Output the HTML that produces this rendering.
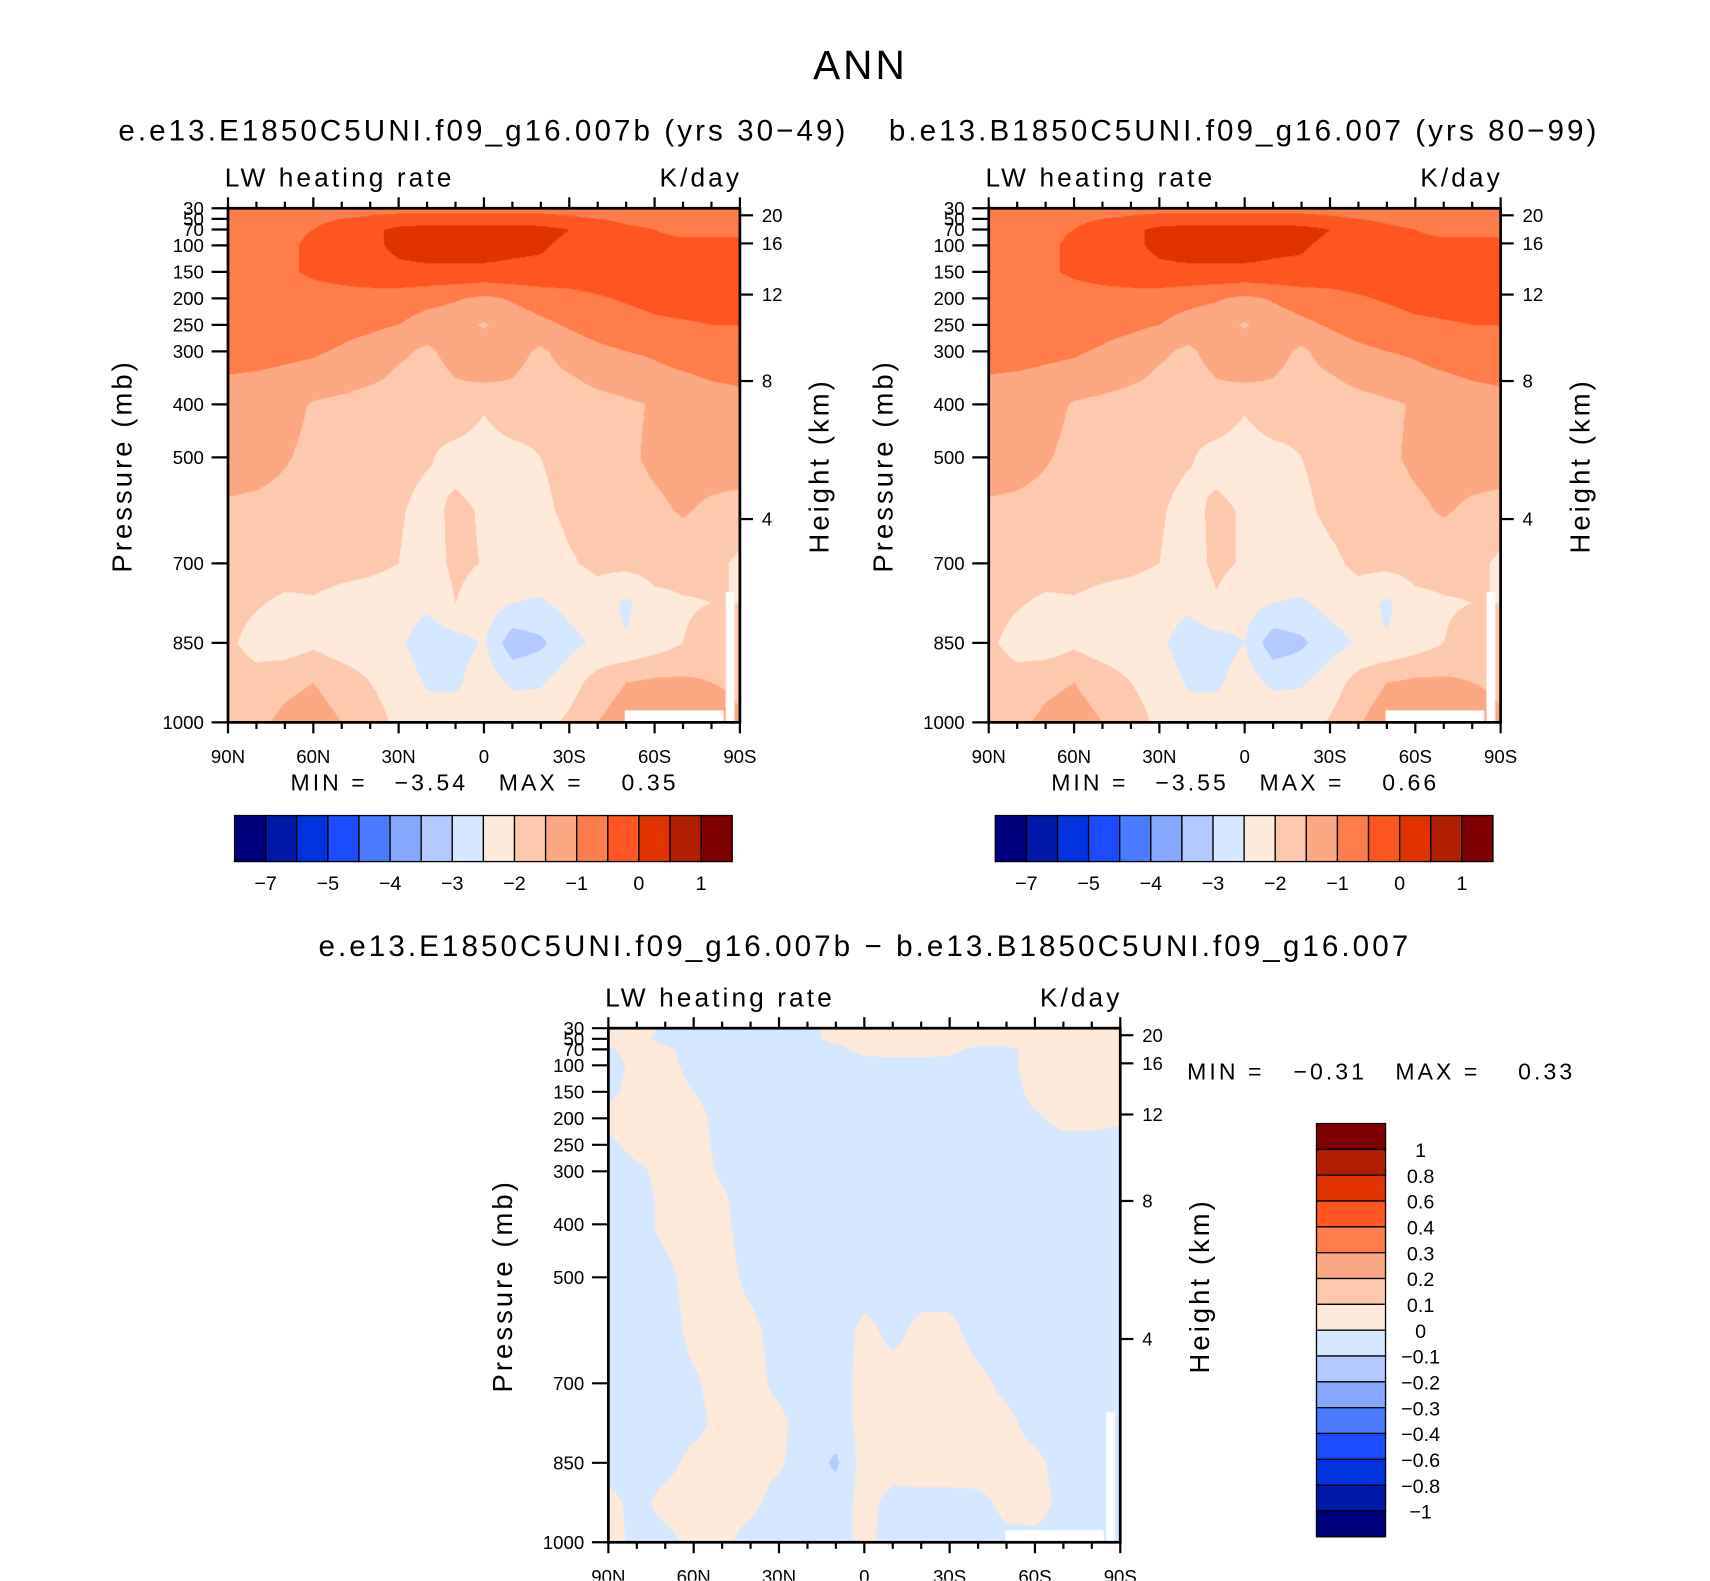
<!DOCTYPE html>
<html><head><meta charset="utf-8">
<style>
html,body{margin:0;padding:0;background:#fff;}
#page{position:absolute;left:0;top:0;width:1560px;height:1442px;transform:scale(1.09615);transform-origin:0 0;overflow:hidden;}
canvas{position:absolute;}
svg{position:absolute;left:0;top:0;}
text{font-family:"Liberation Sans",sans-serif;fill:#000;}
.ls{letter-spacing:2.8px;}
</style></head>
<body>
<div id="page">
<canvas id="c1"></canvas>
<canvas id="c2"></canvas>
<canvas id="c3"></canvas>
<svg id="ov" width="1560" height="1442" viewBox="0 0 1560 1442"></svg>
</div>
<script>
const lats=[90,80,70,60,50,40,30,20,10,0,-10,-20,-30,-40,-50,-60,-70,-80,-90];
const plevs=[30,50,70,100,150,200,250,300,350,400,500,600,700,775,850,925,1000];
const field1=[
[-1.4,-1.35,-1.3,-1.3,-1.3,-1.25,-1.2,-1.2,-1.2,-1.2,-1.2,-1.2,-1.25,-1.3,-1.3,-1.3,-1.35,-1.4,-1.4],
[-1.2,-1.2,-1.2,-1.1,-1.0,-0.9,-0.8,-0.8,-0.8,-0.8,-0.8,-0.8,-0.9,-1.0,-1.1,-1.2,-1.2,-1.2,-1.2],
[-1.2,-1.2,-1.1,-1.0,-0.8,-0.6,-0.4,-0.3,-0.3,-0.3,-0.3,-0.35,-0.5,-0.7,-0.9,-1.0,-1.1,-1.1,-1.1],
[-1.2,-1.2,-1.1,-0.9,-0.7,-0.6,-0.4,-0.3,-0.3,-0.3,-0.4,-0.45,-0.6,-0.7,-0.85,-0.9,-0.9,-0.9,-0.9],
[-1.2,-1.2,-1.1,-0.9,-0.8,-0.7,-0.6,-0.6,-0.6,-0.6,-0.6,-0.6,-0.65,-0.7,-0.8,-0.8,-0.8,-0.8,-0.8],
[-1.3,-1.3,-1.3,-1.25,-1.2,-1.2,-1.25,-1.35,-1.45,-1.6,-1.45,-1.3,-1.2,-1.05,-0.95,-0.85,-0.8,-0.8,-0.8],
[-1.3,-1.3,-1.3,-1.3,-1.35,-1.4,-1.5,-1.7,-1.8,-2.05,-1.75,-1.6,-1.45,-1.3,-1.2,-1.1,-1.05,-1.0,-1.0],
[-1.35,-1.35,-1.4,-1.45,-1.55,-1.7,-1.9,-2.1,-1.8,-1.7,-1.8,-2.1,-1.75,-1.6,-1.5,-1.45,-1.35,-1.3,-1.25],
[-1.52,-1.55,-1.6,-1.65,-1.75,-1.9,-2.1,-2.2,-2.0,-1.9,-2.0,-2.2,-2.05,-1.85,-1.7,-1.6,-1.55,-1.48,-1.45],
[-1.6,-1.65,-1.8,-2.05,-2.15,-2.25,-2.3,-2.35,-2.2,-2.45,-2.2,-2.3,-2.3,-2.2,-2.1,-1.95,-1.7,-1.65,-1.6],
[-1.7,-1.75,-1.95,-2.15,-2.25,-2.3,-2.35,-2.45,-2.65,-2.7,-2.65,-2.5,-2.35,-2.25,-2.1,-1.9,-1.8,-1.75,-1.7],
[-2.1,-2.15,-2.2,-2.25,-2.3,-2.35,-2.45,-2.65,-2.4,-2.55,-2.75,-2.6,-2.4,-2.3,-2.2,-2.1,-1.95,-2.1,-2.2],
[-2.2,-2.2,-2.25,-2.3,-2.35,-2.4,-2.5,-2.7,-2.4,-2.52,-2.75,-2.75,-2.55,-2.4,-2.35,-2.3,-2.3,-2.35,-2.6],
[-2.3,-2.45,-2.6,-2.55,-2.65,-2.7,-2.75,-2.9,-2.5,-2.75,-3.0,-3.05,-2.85,-2.7,-3.1,-2.65,-2.55,-2.5,-2.5],
[-2.4,-2.7,-2.8,-2.6,-2.8,-2.85,-2.9,-3.3,-3.2,-2.95,-3.8,-3.6,-3.15,-2.9,-2.95,-2.75,-2.5,-2.3,-2.2],
[-2.2,-2.3,-2.1,-2.0,-2.2,-2.5,-2.7,-3.05,-3.1,-2.7,-3.1,-3.05,-2.7,-2.3,-2.0,-1.9,-1.9,-2.0,-2.2],
[-2.0,-2.1,-1.9,-1.8,-2.0,-2.3,-2.6,-2.8,-2.7,-2.5,-2.6,-2.7,-2.4,-2.0,-1.7,-1.4,-1.7,-1.3,-1.9]];
const field2=[
[-1.4,-1.35,-1.3,-1.3,-1.3,-1.25,-1.2,-1.2,-1.2,-1.2,-1.2,-1.2,-1.25,-1.3,-1.3,-1.3,-1.35,-1.4,-1.4],
[-1.2,-1.2,-1.2,-1.1,-1.0,-0.9,-0.8,-0.8,-0.8,-0.8,-0.8,-0.8,-0.9,-1.0,-1.1,-1.2,-1.2,-1.2,-1.2],
[-1.2,-1.2,-1.1,-1.0,-0.8,-0.6,-0.4,-0.3,-0.3,-0.3,-0.3,-0.35,-0.5,-0.7,-0.9,-1.0,-1.1,-1.1,-1.1],
[-1.2,-1.2,-1.1,-0.9,-0.7,-0.6,-0.4,-0.3,-0.3,-0.3,-0.4,-0.45,-0.6,-0.7,-0.85,-0.9,-0.9,-0.9,-0.9],
[-1.2,-1.2,-1.1,-0.9,-0.8,-0.7,-0.6,-0.6,-0.6,-0.6,-0.6,-0.6,-0.65,-0.7,-0.8,-0.8,-0.8,-0.8,-0.8],
[-1.3,-1.3,-1.3,-1.25,-1.2,-1.2,-1.25,-1.35,-1.45,-1.6,-1.45,-1.3,-1.2,-1.05,-0.95,-0.85,-0.8,-0.8,-0.8],
[-1.3,-1.3,-1.3,-1.3,-1.35,-1.4,-1.5,-1.7,-1.8,-2.05,-1.75,-1.6,-1.45,-1.3,-1.2,-1.1,-1.05,-1.0,-1.0],
[-1.35,-1.35,-1.4,-1.45,-1.55,-1.7,-1.9,-2.1,-1.8,-1.7,-1.8,-2.1,-1.75,-1.6,-1.5,-1.45,-1.35,-1.3,-1.25],
[-1.52,-1.55,-1.6,-1.65,-1.75,-1.9,-2.1,-2.2,-2.0,-1.9,-2.0,-2.2,-2.05,-1.85,-1.7,-1.6,-1.55,-1.48,-1.45],
[-1.6,-1.65,-1.8,-2.05,-2.15,-2.25,-2.3,-2.35,-2.2,-2.45,-2.2,-2.3,-2.3,-2.2,-2.1,-1.95,-1.7,-1.65,-1.6],
[-1.7,-1.75,-1.95,-2.15,-2.25,-2.3,-2.35,-2.45,-2.65,-2.7,-2.65,-2.5,-2.35,-2.25,-2.1,-1.9,-1.8,-1.75,-1.7],
[-2.1,-2.15,-2.2,-2.25,-2.3,-2.35,-2.45,-2.65,-2.4,-2.55,-2.75,-2.6,-2.4,-2.3,-2.2,-2.1,-1.95,-2.1,-2.2],
[-2.2,-2.2,-2.25,-2.3,-2.35,-2.4,-2.5,-2.7,-2.4,-2.55,-2.75,-2.75,-2.6,-2.4,-2.35,-2.3,-2.3,-2.35,-2.6],
[-2.3,-2.45,-2.6,-2.55,-2.65,-2.7,-2.75,-2.9,-2.55,-2.8,-3.0,-3.05,-2.85,-2.7,-3.1,-2.65,-2.55,-2.5,-2.5],
[-2.4,-2.7,-2.8,-2.6,-2.8,-2.85,-2.9,-3.25,-3.2,-3.0,-3.8,-3.6,-3.2,-2.95,-2.95,-2.75,-2.5,-2.3,-2.2],
[-2.2,-2.3,-2.1,-2.0,-2.2,-2.5,-2.7,-3.05,-3.1,-2.75,-3.1,-3.05,-2.75,-2.3,-2.0,-1.9,-1.9,-2.0,-2.2],
[-2.0,-2.1,-1.9,-1.8,-2.0,-2.3,-2.6,-2.8,-2.7,-2.55,-2.6,-2.7,-2.45,-2.05,-1.7,-1.4,-1.7,-1.3,-1.9]];
const fieldDiff=[
[.05,.05,-.02,-.04,-.05,-.05,-.04,-.02,.03,.04,.03,.04,.05,.05,.05,.05,.05,.05,.05],
[.04,.03,-.03,-.05,-.06,-.05,-.04,-.02,.02,.04,.04,.05,.05,.05,.05,.05,.05,.05,.05],
[-.01,.03,.02,-.04,-.05,-.05,-.04,-.03,-.02,.02,.03,.03,.02,-.02,-.02,.03,.04,.04,.04],
[-.03,.02,.03,-.03,-.05,-.05,-.04,-.04,-.03,-.03,-.03,-.03,-.03,-.03,-.02,.03,.04,.04,.04],
[-.02,.03,.04,.0,-.04,-.05,-.05,-.04,-.04,-.04,-.04,-.04,-.04,-.04,-.03,.02,.03,.03,.03],
[.03,.04,.04,.03,-.03,-.05,-.05,-.04,-.04,-.04,-.04,-.04,-.04,-.04,-.03,-.01,.02,.02,.01],
[-.02,.03,.04,.03,-.02,-.05,-.05,-.04,-.04,-.04,-.04,-.04,-.04,-.04,-.04,-.03,-.02,-.02,-.03],
[-.04,-.02,.03,.03,-.01,-.04,-.05,-.04,-.04,-.04,-.04,-.04,-.04,-.04,-.04,-.04,-.04,-.04,-.04],
[-.04,-.03,.02,.03,.01,-.04,-.05,-.05,-.04,-.04,-.04,-.04,-.04,-.04,-.04,-.04,-.04,-.04,-.04],
[-.04,-.03,.02,.03,.02,-.04,-.05,-.05,-.04,-.04,-.04,-.04,-.04,-.04,-.04,-.04,-.04,-.04,-.04],
[-.04,-.04,-.02,.03,.03,-.02,-.05,-.05,-.04,-.04,-.04,-.04,-.04,-.04,-.04,-.04,-.04,-.04,-.04],
[-.04,-.04,-.03,.02,.03,.02,-.03,-.05,-.04,.02,-.02,.02,.02,-.03,-.04,-.04,-.04,-.04,-.04],
[-.04,-.04,-.03,-.01,.03,.03,-.02,-.05,-.04,.03,.03,.03,.04,.02,-.02,-.04,-.04,-.04,-.04],
[-.04,-.04,-.03,-.02,.02,.03,.02,-.04,-.04,.03,.04,.04,.04,.03,.02,-.03,-.04,-.04,-.04],
[-.03,-.03,-.02,.02,.03,.03,.01,-.04,-.12,.05,.04,.05,.05,.04,.03,.02,-.03,-.04,-.04],
[.02,-.02,.02,.03,.03,.02,-.03,-.05,-.04,.03,-.03,-.03,-.03,-.02,.02,.03,-.02,-.04,-.04],
[.03,-.02,-.02,.02,.02,-.03,-.04,-.04,-.03,.02,-.03,-.03,-.03,-.03,-.02,-.02,-.03,-.04,-.04]];
const bounds1=[-7.5,-6.5,-5.5,-5,-4.5,-4,-3.5,-3,-2.5,-2,-1.5,-1,-0.5,0,0.5];
const boundsDiff=[-1,-0.8,-0.6,-0.4,-0.3,-0.2,-0.1,0,0.1,0.2,0.3,0.4,0.6,0.8,1];
const cbLabels1=["−7","−5","−4","−3","−2","−1","0","1"];
const cbLabelsDiff=["1","0.8","0.6","0.4","0.3","0.2","0.1","0","−0.1","−0.2","−0.3","−0.4","−0.6","−0.8","−1"];
const pTicks=[30,50,70,100,150,200,250,300,400,500,700,850,1000];
const zTicks=[4,8,12,16,20];
const latTicks=[90,60,30,0,-30,-60,-90];
const latTickLabels=["90N","60N","30N","0","30S","60S","90S"];
const colors=["#00007f","#0019a8","#0032e0","#1a4dff","#4a7bff","#86a6ff","#b3c9ff","#d6e8ff","#feeadb","#fdc9ae","#fca883","#fe7d4a","#ff5520","#e03300","#b11f00","#7f0000"];

const S=1.09615, W=467, H=469;
const svg=document.getElementById('ov');
const NS="http://www.w3.org/2000/svg";
function mk(tag,attrs,txt){const e=document.createElementNS(NS,tag);for(const k in attrs)e.setAttribute(k,attrs[k]);if(txt!==undefined)e.textContent=txt;svg.appendChild(e);return e;}
function yP(top,p){return top+(p-30)/970*H;}
function xL(left,lat){return left+(90-lat)/180*W;}
function zToP(z){return 1013.25*Math.pow(1-2.25577e-5*z*1000,5.25588);}
function val(grid,lat,p){
  let fi=(90-lat)/10;let i=Math.min(Math.floor(fi),17);let tx=fi-i;
  let j=0;while(j<plevs.length-2&&p>plevs[j+1])j++;
  let ty=(p-plevs[j])/(plevs[j+1]-plevs[j]);ty=Math.max(0,Math.min(1,ty));
  const a=grid[j][i],b=grid[j][i+1],c=grid[j+1][i],d=grid[j+1][i+1];
  return (a*(1-tx)+b*tx)*(1-ty)+(c*(1-tx)+d*tx)*ty;
}
function rgb(h){return [parseInt(h.substr(1,2),16),parseInt(h.substr(3,2),16),parseInt(h.substr(5,2),16)];}
const rgbs=colors.map(rgb);
function drawField(id,left,top,grid,bounds){
  const c=document.getElementById(id);
  const cw=Math.round(W*S),ch=Math.round(H*S);
  c.width=cw;c.height=ch;c.style.left=left+'px';c.style.top=top+'px';c.style.width=W+'px';c.style.height=H+'px';
  const ctx=c.getContext('2d');const img=ctx.createImageData(cw,ch);
  for(let y=0;y<ch;y++){const p=30+(y+0.5)/ch*970;
    for(let x=0;x<cw;x++){const lat=90-(x+0.5)/cw*180;const v=val(grid,lat,p);
      let k=0;while(k<bounds.length&&v>=bounds[k])k++;
      const col=rgbs[k];const o=(y*cw+x)*4;img.data[o]=col[0];img.data[o+1]=col[1];img.data[o+2]=col[2];img.data[o+3]=255;}}
  ctx.putImageData(img,0,0);
  ctx.fillStyle='#fff';
  ctx.fillRect((362/W)*cw,(458/H)*ch,(90/W)*cw,(11/H)*ch);
  ctx.fillRect((454/W)*cw,(350/H)*ch,(8/W)*cw,(119/H)*ch);
}
function axes(left,top,pre){
  mk('rect',{x:left,y:top,width:W,height:H,fill:'none',stroke:'#000','stroke-width':2.5,});
  for(let lat=90;lat>=-90;lat-=10){const x=xL(left,lat);const major=lat%30===0;const L=major?10:6;
    mk('line',{x1:x,y1:top+H,x2:x,y2:top+H+L,stroke:'#000','stroke-width':2});
    mk('line',{x1:x,y1:top,x2:x,y2:top-L,stroke:'#000','stroke-width':2});}
  latTicks.forEach((lat,i)=>{const t=mk('text',{x:xL(left,lat),y:top+H+37,'font-size':17,'text-anchor':'middle'},latTickLabels[i]);
    
    });
  pTicks.forEach(p=>{const y=yP(top,p);mk('line',{x1:left-15,y1:y,x2:left,y2:y,stroke:'#000','stroke-width':2});
    const t=mk('text',{x:left-22,y:y+6,'font-size':17,'text-anchor':'end'},String(p));
    
    });
  zTicks.forEach(z=>{const y=yP(top,zToP(z));mk('line',{x1:left+W,y1:y,x2:left+W+12,y2:y,stroke:'#000','stroke-width':2});
    const t=mk('text',{x:left+W+20,y:y+6,'font-size':17},String(z));
    
    });
  mk('text',{x:left-3,y:top-20,'font-size':24,class:'ls',},'LW heating rate');
  mk('text',{x:left+W+2,y:top-20,'font-size':24,class:'ls','text-anchor':'end',},'K/day');
  mk('text',{x:0,y:0,'font-size':25,class:'ls','text-anchor':'middle',transform:`translate(${left-88},${top+235}) rotate(-90)`,},'Pressure (mb)');
  mk('text',{x:0,y:0,'font-size':25,class:'ls','text-anchor':'middle',transform:`translate(${left+W+81},${top+235}) rotate(-90)`,},'Height (km)');
}
function hbar(x0,y0,pre){
  const bw=454/16;
  colors.forEach((c,i)=>{const r=mk('rect',{x:x0+i*bw,y:y0,width:bw,height:42,fill:c,stroke:'#000','stroke-width':1.2});
    
    });
  cbLabels1.forEach((l,i)=>{const t=mk('text',{x:x0+(2*i+1)*bw,y:y0+68,'font-size':18,'text-anchor':'middle'},l);
    
    });
}
drawField('c1',208,190,field1,bounds1);
drawField('c2',902,190,field2,bounds1);
drawField('c3',555,938,fieldDiff,boundsDiff);
axes(208,190,'panel1');axes(902,190,'panel2');axes(555,938,'diff');
mk('text',{x:785,y:72,'font-size':37,class:'ls','text-anchor':'middle',},'ANN');
mk('text',{x:441,y:128,'font-size':27,class:'ls','text-anchor':'middle',},'e.e13.E1850C5UNI.f09_g16.007b (yrs 30−49)');
mk('text',{x:1135,y:128,'font-size':27,class:'ls','text-anchor':'middle',},'b.e13.B1850C5UNI.f09_g16.007 (yrs 80−99)');
mk('text',{x:789,y:872,'font-size':27,class:'ls','text-anchor':'middle',},'e.e13.E1850C5UNI.f09_g16.007b − b.e13.B1850C5UNI.f09_g16.007');
function minmax(x,y,mn,mx,pre,o){
  mk('text',{x:x,y:y,'font-size':21,class:'ls',},'MIN =');
  mk('text',{x:x+o[0],y:y,'font-size':21,class:'ls',},mn);
  mk('text',{x:x+o[1],y:y,'font-size':21,class:'ls',},'MAX =');
  mk('text',{x:x+o[2],y:y,'font-size':21,class:'ls',},mx);
}
minmax(265,721,'−3.54','0.35','panel1',[95,190,302]);
minmax(959,721,'−3.55','0.66','panel2',[95,190,302]);
minmax(1083,985,'−0.31','0.33','diff',[97,190,302]);
hbar(214,744,'panel1');hbar(908,744,'panel2');
const vbh=377/16;
colors.slice().reverse().forEach((c,i)=>{const r=mk('rect',{x:1201,y:1025+i*vbh,width:63,height:vbh,fill:c,stroke:'#000','stroke-width':1.2});
  
  });
cbLabelsDiff.forEach((l,i)=>{const t=mk('text',{x:1296,y:1025+(i+1)*vbh+7,'font-size':18,'text-anchor':'middle'},l);
  
  });
</script>
</body></html>
